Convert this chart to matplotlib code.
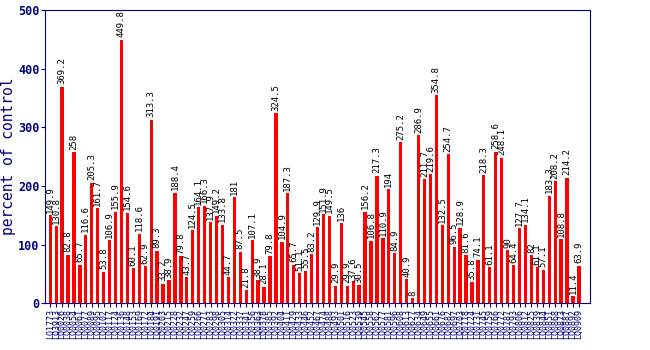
import matplotlib
matplotlib.use("Agg")
import matplotlib.pyplot as plt
import numpy as np

# values, left to right
values = [149.9, 130.8, 369.2, 82.8, 258, 65.7, 116.6, 205.3, 161.7, 53.8,
          106.9, 155.9, 449.8, 154.6, 60.1, 118.6, 62.9, 313.3, 89.3, 33.2,
          38.9, 188.4, 79.8, 43.7, 124.5, 164.1, 166.3, 137.9, 149.2, 133.8,
          44.7, 181, 87.5, 21.8, 107.1, 38.9, 28.1, 79.8, 324.5, 104.9,
          187.3, 65.7, 51.1, 55.5, 83.2, 129.9, 151.9, 149.5, 29.9, 136,
          29.9, 37.6, 30.5, 156.2, 106.8, 217.3, 110.9, 194, 84.9, 275.2,
          40.9, 8, 286.9, 211.7, 219.6, 354.8, 132.5, 254.7, 96.5, 128.9,
          81.6, 35.8, 74.1, 218.3, 61.1, 258.6, 248.1, 90, 64.4, 127.7,
          134.1, 82, 61.1, 57.1, 183.3, 208.2, 108.8, 214.2, 11.4, 63.9]

value_text = ["149.9", "130.8", "369.2", "82.8", "258", "65.7", "116.6", "205.3", "161.7", "53.8",
              "106.9", "155.9", "449.8", "154.6", "60.1", "118.6", "62.9", "313.3", "89.3", "33.2",
              "38.9", "188.4", "79.8", "43.7", "124.5", "164.1", "166.3", "137.9", "149.2", "133.8",
              "44.7", "181", "87.5", "21.8", "107.1", "38.9", "28.1", "79.8", "324.5", "104.9",
              "187.3", "65.7", "51.1", "55.5", "83.2", "129.9", "151.9", "149.5", "29.9", "136",
              "29.9", "37.6", "30.5", "156.2", "106.8", "217.3", "110.9", "194", "84.9", "275.2",
              "40.9", "8", "286.9", "211.7", "219.6", "354.8", "132.5", "254.7", "96.5", "128.9",
              "81.6", "35.8", "74.1", "218.3", "61.1", "258.6", "248.1", "90", "64.4", "127.7",
              "134.1", "82", "61.1", "57.1", "183.3", "208.2", "108.8", "214.2", "11.4", "63.9"]

# sample ids (only partly legible in the reference)
labels = ["LQ1773", "LQ3913", "LQ0026", "LQ0038", "LQ0054", "LQ0061", "LQ0077", "LQ0089", "LQ0095", "LQ0102",
          "LQ0117", "LQ0124", "LQ0136", "LQ0148", "LQ0153", "LQ0169", "LQ0172", "LQ0184", "LQ0191", "LQ0203",
          "LQ0215", "LQ0228", "LQ0232", "LQ0247", "LQ0259", "LQ0266", "LQ0271", "LQ0283", "LQ0298", "LQ0305",
          "LQ0314", "LQ0322", "LQ0337", "LQ0341", "LQ0356", "LQ0363", "LQ0378", "LQ0385", "LQ0392", "LQ0404",
          "LQ0411", "LQ0429", "LQ0433", "LQ0446", "LQ0452", "LQ0467", "LQ0474", "LQ0488", "LQ0493", "LQ0501",
          "LQ0516", "LQ0523", "LQ0539", "LQ0545", "LQ0558", "LQ0562", "LQ0577", "LQ0581", "LQ0596", "LQ0608",
          "LQ0613", "LQ0627", "LQ0634", "LQ0649", "LQ0655", "LQ0661", "LQ0676", "LQ0682", "LQ0697", "LQ0703",
          "LQ0718", "LQ0724", "LQ0731", "LQ0745", "LQ0759", "LQ0766", "LQ0772", "LQ0787", "LQ0793", "LQ0806",
          "LQ0812", "LQ0825", "LQ0839", "LQ0844", "LQ0851", "LQ0868", "LQ0873", "LQ0887", "LQ0892", "LQ0909"]

navy = "#000080"
fig = plt.figure(figsize=(6.5, 3.5), dpi=100)
ax = fig.add_axes([0.069, 0.134, 0.839, 0.837])

x = np.arange(len(values))
ax.bar(x, values, width=0.55, color="#ff0000")
for xi, v, t in zip(x, values, value_text):
    ax.text(xi, v + 4, t, rotation=90, ha="center", va="bottom",
            fontsize=6.5, family="DejaVu Sans Mono", color="black")

ax.set_xlim(-0.9, len(values) + 0.9)
ax.set_ylim(0, 500)
ax.set_yticks([0, 100, 200, 300, 400, 500])
ax.set_xticks(x)
ax.set_xticklabels(labels, rotation=90, fontsize=6, family="DejaVu Sans Mono", color=navy)
for lab in ax.get_yticklabels():
    lab.set_fontweight("bold")
    lab.set_family("DejaVu Sans Mono")
    lab.set_fontsize(8.5)
    lab.set_color(navy)
ax.tick_params(axis="both", colors=navy, length=3, pad=1)
ax.set_ylabel("percent of control", fontsize=10.5, family="DejaVu Sans Mono", color=navy)
ax.yaxis.set_label_coords(-0.053, 0.5)
for s in ax.spines.values():
    s.set_color(navy)

plt.savefig("out.png", dpi=100)
